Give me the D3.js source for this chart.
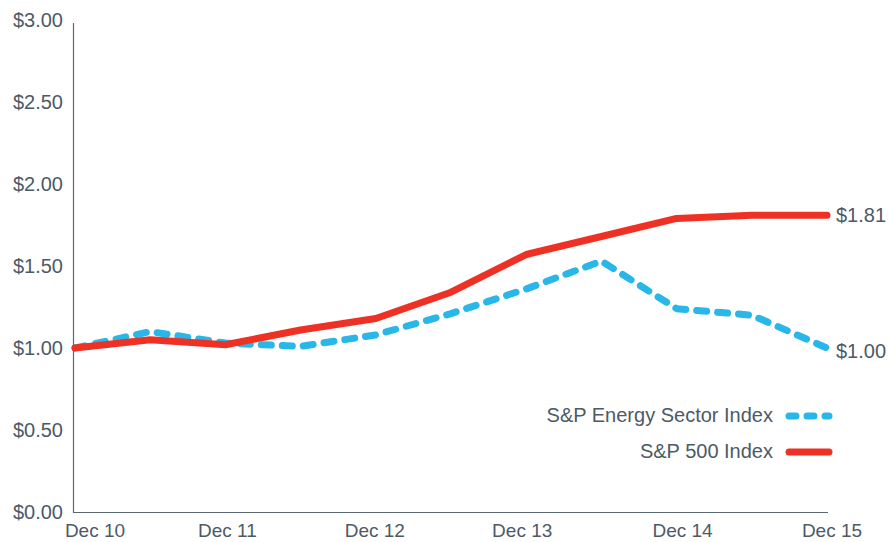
<!DOCTYPE html>
<html>
<head>
<meta charset="utf-8">
<script src="https://cdn.jsdelivr.net/npm/d3@7"></script>
<style>
  body { margin: 0; background: #fff; }
  text { font-family: "Liberation Sans", Arial, sans-serif; fill: #4d5a66; }
</style>
</head>
<body>
<svg id="chart" width="890" height="542"></svg>
<script>
// half-yearly points, Dec 10 .. Dec 15
var periods = [0, 1, 2, 3, 4, 5, 6, 7, 8, 9, 10];
var sp500 = [1.00, 1.05, 1.02, 1.11, 1.18, 1.34, 1.57, 1.68, 1.79, 1.81, 1.81];
var energy = [1.00, 1.10, 1.03, 1.01, 1.08, 1.21, 1.36, 1.53, 1.24, 1.20, 1.00];
var yTicks = [0, 0.5, 1, 1.5, 2, 2.5, 3];
var xTickPeriods = [0, 2, 4, 6, 8, 10];
var xTickLabels = ["Dec 10", "Dec 11", "Dec 12", "Dec 13", "Dec 14", "Dec 15"];
var seriesNames = ["S&P Energy Sector Index", "S&P 500 Index"];

var red = "#ee3124", blue = "#29b6e8", axisCol = "#5a6873";

var svg = d3.select("#chart");

var x = d3.scaleLinear().domain([0, 10]).range([75, 827]);
var y = d3.scaleLinear().domain([0, 3]).range([512, 20]);

// axes lines
svg.append("line").attr("x1", 73.5).attr("x2", 73.5).attr("y1", 23).attr("y2", 512.5)
  .attr("stroke", axisCol).attr("stroke-width", 1.2);
svg.append("line").attr("x1", 73).attr("x2", 828).attr("y1", 512.5).attr("y2", 512.5)
  .attr("stroke", axisCol).attr("stroke-width", 1.2);

// y labels
svg.selectAll(".ylab").data(yTicks).enter().append("text")
  .attr("class", "ylab")
  .attr("x", 63)
  .attr("y", function(d) { return y(d); })
  .attr("dy", "0.35em")
  .attr("text-anchor", "end")
  .style("font-size", "20px")
  .text(function(d) { return "$" + d.toFixed(2); });

// x labels (hand nudged like the original artwork)
var xNudge = [20, 2, -1, -4, 6, 5];
svg.selectAll(".xlab").data(xTickPeriods).enter().append("text")
  .attr("class", "xlab")
  .attr("x", function(d, i) { return x(d) + xNudge[i]; })
  .attr("y", 537)
  .attr("text-anchor", "middle")
  .style("font-size", "19px")
  .text(function(d, i) { return xTickLabels[i]; });

var line = d3.line()
  .x(function(d, i) { return x(periods[i]); })
  .y(function(d) { return y(d); });

svg.append("path").datum(energy)
  .attr("d", line)
  .attr("fill", "none")
  .attr("stroke", blue)
  .attr("stroke-width", 7)
  .attr("stroke-linecap", "round")
  .attr("stroke-linejoin", "round")
  .attr("stroke-dasharray", "10,11");

svg.append("path").datum(sp500)
  .attr("d", line)
  .attr("fill", "none")
  .attr("stroke", red)
  .attr("stroke-width", 7)
  .attr("stroke-linecap", "round")
  .attr("stroke-linejoin", "round");

// end labels
svg.append("text").attr("x", 836).attr("y", y(sp500[10])).attr("dy", "0.35em")
  .style("font-size", "20px").text("$" + sp500[10].toFixed(2));
svg.append("text").attr("x", 836).attr("y", y(energy[10]) + 3).attr("dy", "0.35em")
  .style("font-size", "20px").text("$" + energy[10].toFixed(2));

// legend
var legY = [415, 451];
var legCols = [blue, red];
var legDash = ["7,11", null];
var leg = svg.selectAll(".leg").data(seriesNames).enter().append("g").attr("class", "leg");
leg.append("text")
  .attr("x", 773)
  .attr("y", function(d, i) { return legY[i]; })
  .attr("dy", "0.35em")
  .attr("text-anchor", "end")
  .style("font-size", "20px")
  .text(function(d) { return d; });
leg.append("line")
  .attr("x1", 789).attr("x2", 829)
  .attr("y1", function(d, i) { return legY[i] + 1; })
  .attr("y2", function(d, i) { return legY[i] + 1; })
  .attr("stroke", function(d, i) { return legCols[i]; })
  .attr("stroke-width", 7)
  .attr("stroke-linecap", "round")
  .attr("stroke-dasharray", function(d, i) { return legDash[i]; });
</script>
</body>
</html>
